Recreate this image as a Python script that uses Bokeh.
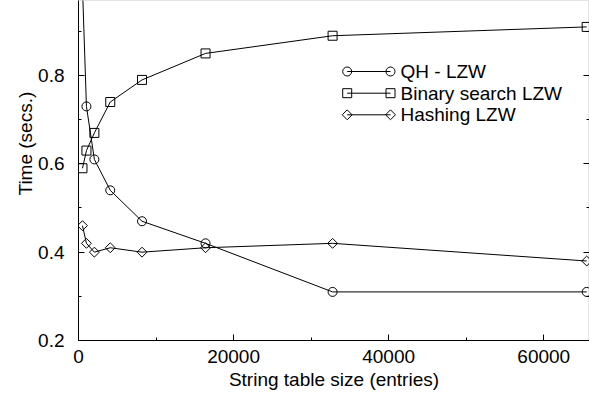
import numpy as np
from bokeh.plotting import figure
from bokeh.models import Range1d, FixedTicker, LinearAxis, Title, ColumnDataSource
from bokeh.embed import file_html
from bokeh.resources import INLINE
from bokeh.core.properties import value

# ---- data ----
sizes = [512, 1024, 2048, 4096, 8192, 16384, 32768, 65536]
qh_lzw = [1.0, 0.73, 0.61, 0.54, 0.47, 0.42, 0.31, 0.31]
binary_lzw = [0.59, 0.63, 0.67, 0.74, 0.79, 0.85, 0.89, 0.91]
hashing_lzw = [0.46, 0.42, 0.40, 0.41, 0.40, 0.41, 0.42, 0.38]
series_names = ["QH - LZW", "Binary search LZW", "Hashing LZW"]
x_ticks = [0, 20000, 40000, 60000]
x_minor = [10000, 30000, 50000]
y_ticks = [0.2, 0.4, 0.6, 0.8]
y_minor = [0.3, 0.5, 0.7, 0.9]
x_label = "String table size (entries)"
y_label = "Time (secs.)"

# ---- layout ----
W, H = 589, 395
FL, FT = 78, 0          # frame left / top in canvas px
FW, FH = W - FL, 340    # frame size
X0, X1 = 0, 65900
Y0 = 0.2
Y1 = 0.8 + 75 / 441.7
FONT = "Liberation Sans"
FS = "19px"

p = figure(width=W, height=H, output_backend="svg", toolbar_location=None,
           x_range=Range1d(X0, X1), y_range=Range1d(Y0, Y1),
           min_border_left=FL, min_border_right=0, min_border_top=FT,
           min_border_bottom=H - FH - FT)
p.xgrid.visible = False
p.ygrid.visible = False
p.outline_line_color = "#e4e4e4"
p.background_fill_color = "white"
p.border_fill_color = "white"

def style_axis(ax, show_labels=True):
    ax.axis_line_color = "black"
    ax.axis_line_width = 1
    ax.major_tick_line_color = "black"
    ax.minor_tick_line_color = "black"
    ax.major_tick_in = 6
    ax.major_tick_out = 0
    ax.minor_tick_in = 3
    ax.minor_tick_out = 0
    ax.major_label_text_font = FONT
    ax.major_label_text_font_size = FS if show_labels else "0px"
    ax.major_label_text_color = "black" if show_labels else None

p.xaxis.ticker = FixedTicker(ticks=x_ticks, minor_ticks=x_minor)
p.yaxis.ticker = FixedTicker(ticks=y_ticks, minor_ticks=y_minor)
style_axis(p.xaxis[0])
style_axis(p.yaxis[0])
p.xaxis.major_label_standoff = 9
p.yaxis.major_label_standoff = 14

p.xaxis.axis_label = x_label
p.xaxis.axis_label_text_font = FONT
p.xaxis.axis_label_text_font_size = FS
p.xaxis.axis_label_text_font_style = "normal"
p.xaxis.axis_label_text_color = "black"
p.xaxis.axis_label_standoff = 3

ra = LinearAxis(ticker=FixedTicker(ticks=y_ticks, minor_ticks=y_minor))
style_axis(ra, show_labels=False)
ra.axis_line_color = None
ra.major_label_standoff = 0
p.add_layout(ra, "right")

yt = Title(text=y_label, align="left", offset=145, text_font=FONT,
           text_font_size=FS, text_font_style="normal", text_color="black",
           standoff=0)
p.add_layout(yt, "left")

# ---- series ----
series = [
    (qh_lzw, "circle", 9, 0),
    (binary_lzw, "square", 9, 0),
    (hashing_lzw, "square", 7, np.pi / 4),
]
for vals, marker, msize, ang in series:
    src = ColumnDataSource(dict(x=sizes, y=vals))
    p.line("x", "y", source=src, line_color="black", line_width=1)
    p.scatter("x", "y", source=src, marker=marker, size=msize, angle=ang,
              line_color="black", line_width=1, fill_color=None)

# ---- legend (gnuplot style: marker at both ends) ----
def px_to_x(cx):
    return X0 + (cx - FL) / FW * (X1 - X0)

def px_to_y(cy):
    return Y1 - (cy - FT) / FH * (Y1 - Y0)

leg_rows = [71, 92.7, 114.3]     # canvas px
leg_x0, leg_x1, leg_tx = 346.7, 390, 400
for (vals, marker, msize, ang), name, cy in zip(series, series_names, leg_rows):
    yy = px_to_y(cy)
    lx = [px_to_x(leg_x0), px_to_x(leg_x1)]
    src = ColumnDataSource(dict(x=lx, y=[yy, yy]))
    p.line("x", "y", source=src, line_color="black", line_width=1)
    p.scatter("x", "y", source=src, marker=marker, size=msize, angle=ang,
              line_color="black", line_width=1, fill_color=None)
    p.text(x=[px_to_x(leg_tx)], y=[yy], text=[name], text_font=value(FONT),
           text_font_size=FS, text_baseline="middle", text_align="left",
           text_color="black")

open("out.html", "w").write(file_html(p, INLINE))
